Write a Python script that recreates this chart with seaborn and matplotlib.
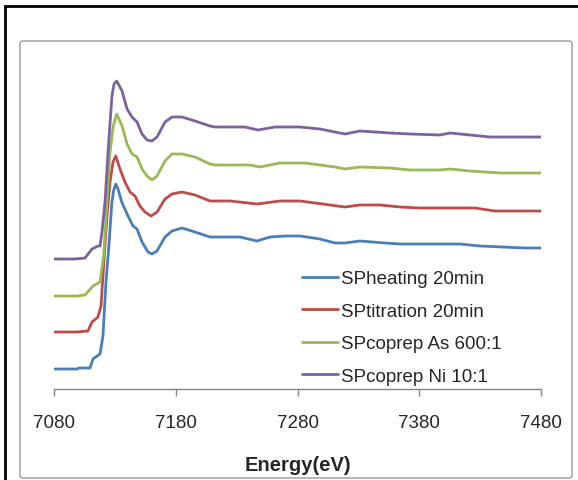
import numpy as np
import pandas as pd
import matplotlib
matplotlib.use("Agg")
import matplotlib.pyplot as plt
import seaborn as sns
from matplotlib.patches import Rectangle, FancyBboxPatch

# XANES spectra, stacked with vertical offsets (arbitrary units)
series_names = ["SPheating 20min", "SPtitration 20min", "SPcoprep As 600:1", "SPcoprep Ni 10:1"]
series_colors = ["#4A7EBB", "#BE4B48", "#98B954", "#7D60A0"]

heating_e = [7080.0, 7098.9, 7100.5, 7109.6, 7112.0, 7117.8, 7120.2, 7122.7, 7125.2, 7127.4,
             7128.9, 7130.7, 7132.6, 7135.6, 7140.8, 7144.9, 7148.2, 7152.3, 7157.2, 7160.5,
             7164.6, 7171.2, 7176.9, 7185.1, 7195.8, 7208.1, 7232.8, 7246.7, 7257.4, 7269.7,
             7282.1, 7298.5, 7310.8, 7319.0, 7331.3, 7351.9, 7364.2, 7413.5, 7429.9, 7466.9, 7480.0]
heating_mu = [0.23, 0.23, 0.24, 0.24, 0.33, 0.38, 0.56, 1.10, 1.48, 1.88,
              2.01, 2.08, 2.03, 1.90, 1.76, 1.66, 1.63, 1.50, 1.40, 1.38,
              1.41, 1.55, 1.61, 1.64, 1.60, 1.55, 1.55, 1.51, 1.55, 1.56,
              1.56, 1.53, 1.49, 1.49, 1.51, 1.49, 1.48, 1.48, 1.46, 1.44, 1.44]

titration_e = [7080.0, 7098.9, 7107.9, 7111.2, 7116.1, 7118.6, 7120.2, 7123.5, 7126.0, 7128.5,
               7130.7, 7134.2, 7138.3, 7142.4, 7146.5, 7150.6, 7154.7, 7159.7, 7164.6, 7171.2,
               7176.9, 7185.1, 7195.8, 7208.1, 7224.6, 7246.7, 7265.6, 7282.1, 7306.7, 7319.0,
               7331.3, 7347.8, 7364.2, 7380.6, 7425.8, 7442.2, 7480.0]
titration_mu = [0.60, 0.60, 0.61, 0.70, 0.75, 0.86, 1.16, 1.76, 2.10, 2.30,
                2.36, 2.23, 2.10, 2.00, 1.96, 1.86, 1.80, 1.76, 1.80, 1.93,
                1.98, 2.00, 1.97, 1.91, 1.91, 1.88, 1.91, 1.91, 1.87, 1.85,
                1.87, 1.87, 1.85, 1.84, 1.84, 1.81, 1.81]

coprep_as_e = [7080.0, 7098.9, 7105.5, 7112.0, 7117.8, 7120.8, 7123.5, 7126.0, 7128.7, 7131.5,
               7135.9, 7140.0, 7144.1, 7148.2, 7152.3, 7156.4, 7160.5, 7164.6, 7171.2, 7176.9,
               7185.1, 7195.8, 7208.1, 7212.2, 7241.0, 7249.2, 7265.6, 7286.2, 7310.8, 7319.0,
               7331.3, 7356.0, 7372.4, 7397.0, 7405.3, 7421.7, 7446.3, 7480.0]
coprep_as_mu = [0.96, 0.96, 0.97, 1.06, 1.10, 1.36, 1.90, 2.40, 2.66, 2.78,
                2.66, 2.48, 2.38, 2.35, 2.23, 2.16, 2.12, 2.16, 2.31, 2.38,
                2.38, 2.35, 2.28, 2.27, 2.27, 2.25, 2.29, 2.29, 2.25, 2.23,
                2.25, 2.24, 2.22, 2.22, 2.23, 2.21, 2.19, 2.19]

coprep_ni_e = [7080.0, 7097.2, 7105.5, 7111.2, 7116.1, 7117.8, 7119.4, 7121.9, 7124.4, 7127.6,
               7129.3, 7131.5, 7135.9, 7140.0, 7144.1, 7148.2, 7152.3, 7156.4, 7160.5, 7164.6,
               7171.2, 7176.9, 7185.1, 7195.8, 7208.1, 7212.2, 7236.8, 7247.5, 7261.5, 7282.1,
               7298.5, 7310.8, 7319.0, 7331.3, 7356.0, 7372.4, 7397.0, 7405.3, 7421.7, 7438.1, 7480.0]
coprep_ni_mu = [1.33, 1.33, 1.34, 1.43, 1.46, 1.46, 1.60, 1.90, 2.40, 2.96,
                3.08, 3.11, 3.01, 2.83, 2.75, 2.70, 2.58, 2.52, 2.51, 2.55,
                2.70, 2.75, 2.75, 2.71, 2.66, 2.65, 2.65, 2.62, 2.65, 2.65,
                2.63, 2.60, 2.58, 2.61, 2.59, 2.58, 2.57, 2.59, 2.57, 2.55, 2.55]

x_ticks = [7080, 7180, 7280, 7380, 7480]

frames = []
for name, e, mu in zip(series_names,
                       [heating_e, titration_e, coprep_as_e, coprep_ni_e],
                       [heating_mu, titration_mu, coprep_as_mu, coprep_ni_mu]):
    frames.append(pd.DataFrame({"energy": e, "mu": mu, "sample": name}))
df = pd.concat(frames, ignore_index=True)

sns.set_style("white")
plt.rcParams["font.family"] = ["Liberation Sans", "DejaVu Sans"]

W, H = 578, 481
fig = plt.figure(figsize=(W / 100, H / 100), dpi=100)

# chart area: black outer frame + grey rounded box (Excel style)
fig.add_artist(Rectangle((5 / W, -0.1), 1.0, 1 - 7 / H + 0.1, transform=fig.transFigure,
                         fill=False, edgecolor="black", linewidth=2.0))
fig.add_artist(FancyBboxPatch((20 / W, 2 / H), 552 / W, (479 - 42) / H,
                              boxstyle="round,pad=0,rounding_size=0.006",
                              transform=fig.transFigure, fill=False,
                              edgecolor="#9A9A9A", linewidth=1.0))

ax_left, ax_right, ax_bottom, ax_top = 54, 541, 390, 55
ax = fig.add_axes([ax_left / W, 1 - ax_bottom / H, (ax_right - ax_left) / W, (ax_bottom - ax_top) / H])

sns.lineplot(data=df, x="energy", y="mu", hue="sample", hue_order=series_names,
             palette=series_colors, linewidth=2.0, errorbar=None, ax=ax)

ax.set_xlim(7080, 7480)
ax.set_ylim(0.03, 3.38)
ax.set_xticks(x_ticks)
ax.set_xticklabels([str(t) for t in x_ticks], fontsize=13.5)
ax.set_yticks([])
ax.set_ylabel("")
ax.set_xlabel("Energy(eV)", fontsize=14.5, fontweight="bold", labelpad=17)
ax.tick_params(axis="x", bottom=True, direction="out", length=5, width=1,
               color="#868686", pad=13)

for side in ["top", "right", "left"]:
    ax.spines[side].set_visible(False)
ax.spines["bottom"].set_color("#868686")
ax.spines["bottom"].set_linewidth(1.0)
ax.patch.set_alpha(0)

handles, labels = ax.get_legend_handles_labels()
ax.legend(handles, labels, loc="upper left", bbox_to_anchor=(302 / W, 1 - 271 / H),
          bbox_transform=fig.transFigure, frameon=False, fontsize=13.5,
          handlelength=1.9, handletextpad=0.2, labelspacing=0.82,
          borderpad=0, borderaxespad=0)

fig.savefig("out.png", dpi=100)
